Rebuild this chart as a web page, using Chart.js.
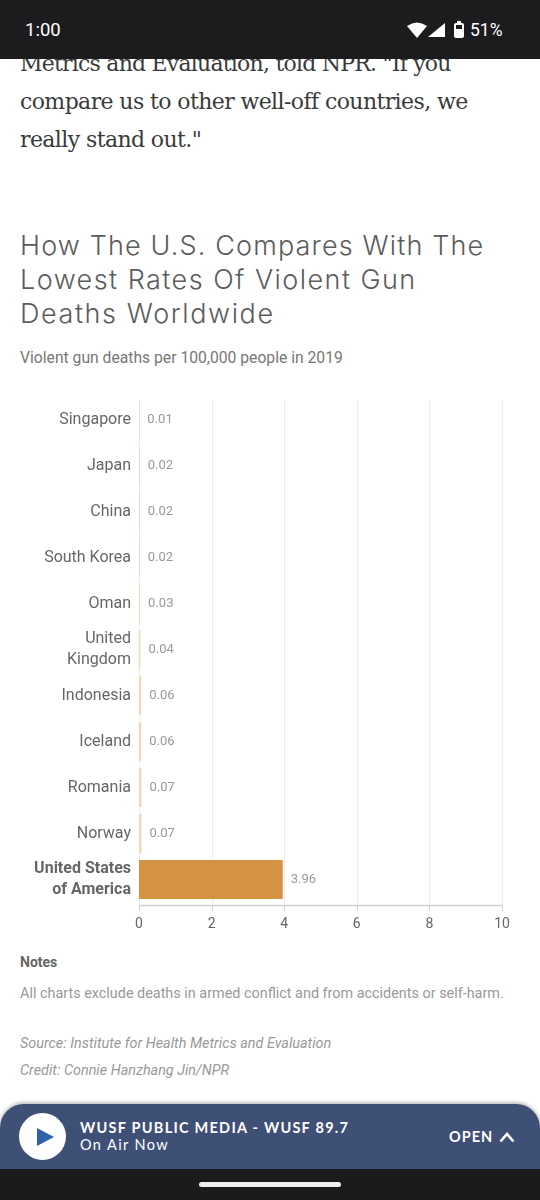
<!DOCTYPE html>
<html>
<head>
<meta charset="utf-8">
<title>How The U.S. Compares</title>
<script src="https://cdn.jsdelivr.net/npm/chart.js@4"></script>
<style>
  html, body { margin: 0; padding: 0; background: #fff; }
  #page { position: relative; width: 540px; height: 1200px; overflow: hidden; font-family: Roboto, sans-serif; }
  #page div, #page svg { position: absolute; white-space: nowrap; }
  .body-line { left: 20px; font: 22px/38px "DejaVu Serif", serif; color: #3a3a3a; letter-spacing: -0.6px; }
  .title-line { left: 20px; font: 300 27px/34px Inter, sans-serif; color: #5c5c5c; letter-spacing: 1.15px; }
  #subtitle { left: 20px; top: 348px; font: 15.7px/20px Roboto, sans-serif; color: #777; }
  #chart-wrap { left: 0; top: 385px; width: 540px; height: 555px; }
  #notes-head { left: 20px; top: 953px; font: bold 14px/18px Roboto, sans-serif; color: #666; }
  #notes { left: 20px; top: 984px; font: 14.4px/20px Roboto, sans-serif; color: #999; }
  .credit { left: 20px; font: italic 14.4px/20px Roboto, sans-serif; color: #999; }
  #statusbar { left: 0; top: 0; width: 540px; height: 59px; background: #1c1c1e; color: #fff; }
  #navbar { left: 0; top: 1169px; width: 540px; height: 31px; background: #1b1b1d; }
  #homebar { left: 199px; top: 1182px; width: 142px; height: 5px; border-radius: 3px; background: #eee; }
  #player { left: 0; top: 1104px; width: 540px; height: 65px; background: #3f5076; border-radius: 24px 24px 0 0; box-shadow: 0 -1px 4px rgba(0,0,0,.35); }
  #playcircle { left: 19px; top: 1113px; width: 47px; height: 47px; border-radius: 50%; background: #fff; }
  #station { left: 80px; top: 1119px; font: 700 14.5px/18px Lato, sans-serif; color: #fff; letter-spacing: 1.25px; }
  #onair { left: 80px; top: 1136px; font: 14.5px/18px Lato, sans-serif; color: #fff; letter-spacing: 1.4px; }
  #open { left: 449px; top: 1128px; font: 700 14.5px/18px Lato, sans-serif; color: #fff; letter-spacing: 1px; }
</style>
</head>
<body>
<div id="page">
  <div class="body-line" style="top:45px;letter-spacing:-0.78px">Metrics and Evaluation, told NPR. "If you</div>
  <div class="body-line" style="top:83px">compare us to other well-off countries, we</div>
  <div class="body-line" style="top:121px">really stand out."</div>

  <div class="title-line" style="top:229px">How The U.S. Compares With The</div>
  <div class="title-line" style="top:263px;letter-spacing:1.45px">Lowest Rates Of Violent Gun</div>
  <div class="title-line" style="top:297px;letter-spacing:1.6px">Deaths Worldwide</div>
  <div id="subtitle">Violent gun deaths per 100,000 people in 2019</div>

  <div id="chart-wrap"><canvas id="chart" width="540" height="555"></canvas></div>

  <div id="notes-head">Notes</div>
  <div id="notes">All charts exclude deaths in armed conflict and from accidents or self-harm.</div>
  <div class="credit" style="top:1034px">Source: Institute for Health Metrics and Evaluation</div>
  <div class="credit" style="top:1061px">Credit: Connie Hanzhang Jin/NPR</div>

  <div id="statusbar"></div>
  <div style="left:25px;top:20px;font:18.5px/20px Roboto,sans-serif;color:#fff">1:00</div>
  <svg style="left:407px;top:20px" width="60" height="20" viewBox="0 0 60 20">
    <path d="M0 6 Q10 -1 20 6 L10 18 Z" fill="#fff"/>
    <path d="M21 17 L38 3 V17 Z" fill="#fff"/>
    <rect x="47" y="3" width="10" height="15" rx="2" fill="#fff"/>
    <rect x="50" y="1" width="4" height="2" fill="#fff"/>
    <rect x="49" y="5" width="6" height="4" fill="#1c1c1e"/>
  </svg>
  <div style="left:470px;top:20px;font:17.5px/20px Roboto,sans-serif;color:#fff">51%</div>

  <div id="player"></div>
  <div id="playcircle"></div>
  <svg style="left:36px;top:1127px" width="20" height="20" viewBox="0 0 20 20"><path d="M1 1 L18 10 L1 19 Z" fill="#2f62ad"/></svg>
  <div id="station">WUSF PUBLIC MEDIA - WUSF 89.7</div>
  <div id="onair">On Air Now</div>
  <div id="open">OPEN</div>
  <svg style="left:499px;top:1131px" width="16" height="12" viewBox="0 0 16 12"><path d="M1.5 10.5 L8 3 L14.5 10.5" fill="none" stroke="#fff" stroke-width="2.6"/></svg>
  <div id="navbar"></div>
  <div id="homebar"></div>
</div>

<script>
"use strict";

const categories = [
  "Singapore",
  "Japan",
  "China",
  "South Korea",
  "Oman",
  ["United", "Kingdom"],
  "Indonesia",
  "Iceland",
  "Romania",
  "Norway",
  ["United States", "of America"],
];
const deathRates = [0.01, 0.02, 0.02, 0.02, 0.03, 0.04, 0.06, 0.06, 0.07, 0.07, 3.96];
const xTicks = [0, 2, 4, 6, 8, 10];

const highlightIndex = 10;
const barColors = deathRates.map((v, i) => (i === highlightIndex ? "#d59240" : "#f0d9b8"));

// gridlines sit a bit lower than the category bands in the original
const gridPlugin = {
  id: "gridLines",
  beforeDatasetsDraw(chart) {
    const { ctx, chartArea, scales } = chart;
    const top = chartArea.top + 3.5;
    const bottom = chartArea.bottom + 2.5;
    ctx.save();
    xTicks.forEach((t) => {
      const x = Math.round(scales.x.getPixelForValue(t)) + 0.5;
      ctx.strokeStyle = "#ececec";
      ctx.lineWidth = 1;
      ctx.beginPath();
      ctx.moveTo(x, top);
      ctx.lineTo(x, bottom);
      ctx.stroke();
      ctx.strokeStyle = "#d0d0d8";
      ctx.beginPath();
      ctx.moveTo(x, bottom);
      ctx.lineTo(x, bottom + 6);
      ctx.stroke();
    });
    ctx.strokeStyle = "#d0d0d8";
    ctx.lineWidth = 1.5;
    ctx.beginPath();
    ctx.moveTo(chartArea.left, bottom + 0.5);
    ctx.lineTo(chartArea.right + 1, bottom + 0.5);
    ctx.stroke();
    ctx.restore();
  },
};

// value labels to the right of each bar
const valueLabels = {
  id: "valueLabels",
  afterDatasetsDraw(chart) {
    const { ctx } = chart;
    const bars = chart.getDatasetMeta(0).data;
    ctx.save();
    ctx.font = "13px Roboto, sans-serif";
    ctx.fillStyle = "#999";
    ctx.textAlign = "left";
    ctx.textBaseline = "middle";
    bars.forEach((bar, i) => {
      ctx.fillText(deathRates[i].toFixed(2), bar.x + 8, bar.y + 0.5);
    });
    ctx.restore();
  },
};

new Chart(document.getElementById("chart"), {
  type: "bar",
  data: {
    labels: categories,
    datasets: [
      {
        data: deathRates,
        backgroundColor: barColors,
        barPercentage: 0.85,
        categoryPercentage: 1,
      },
    ],
  },
  options: {
    indexAxis: "y",
    responsive: false,
    animation: false,
    layout: { padding: { top: 11.5, right: 38 } },
    plugins: { legend: { display: false }, tooltip: { enabled: false } },
    scales: {
      x: {
        min: 0,
        max: 10,
        afterBuildTicks(axis) {
          axis.ticks = xTicks.map((value) => ({ value }));
        },
        afterFit(axis) {
          axis.height = 37.5;
        },
        grid: { display: false },
        border: { display: false },
        ticks: {
          padding: 5.5,
          maxRotation: 0,
          color: "#666",
          font: { family: "Roboto, sans-serif", size: 14 },
        },
      },
      y: {
        afterFit(axis) {
          axis.width = 139;
          // drop the room chart.js keeps for the first and last label
          axis.paddingTop = 0;
          axis.paddingBottom = 0;
        },
        grid: { display: false },
        border: { display: false },
        ticks: {
          padding: 0,
          autoSkip: false,
          color: "#666",
          font: (c) => ({
            family: "Roboto, sans-serif",
            size: 16,
            lineHeight: 1.36,
            weight: c.index === highlightIndex ? "bold" : "normal",
          }),
        },
      },
    },
  },
  plugins: [gridPlugin, valueLabels],
});
</script>
</body>
</html>
